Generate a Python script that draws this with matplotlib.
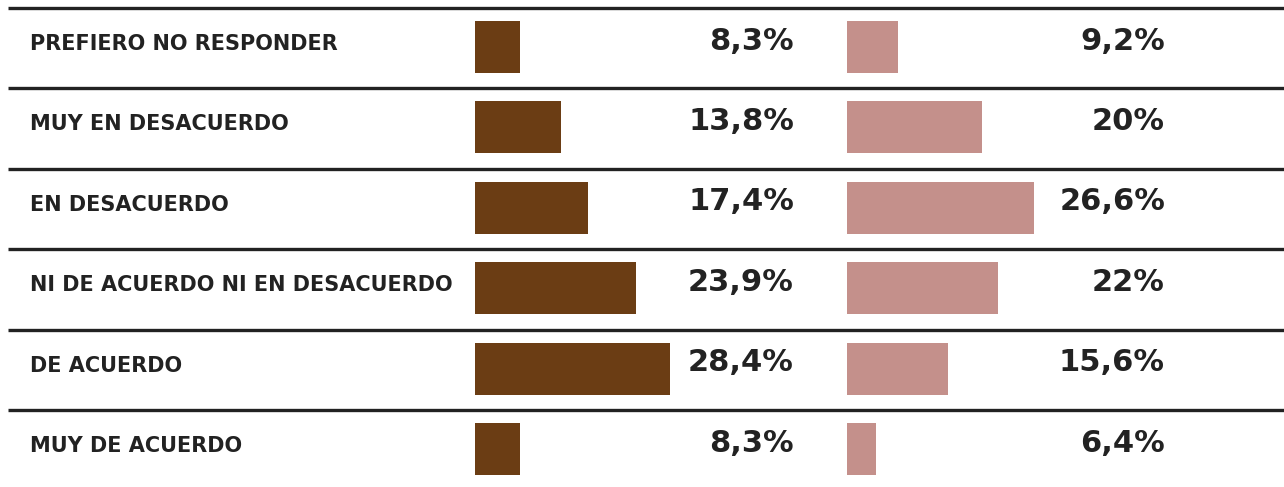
import numpy as np
import matplotlib
matplotlib.use("Agg")
import matplotlib.pyplot as plt

categories = [
    "PREFIERO NO RESPONDER",
    "MUY EN DESACUERDO",
    "EN DESACUERDO",
    "NI DE ACUERDO NI EN DESACUERDO",
    "DE ACUERDO",
    "MUY DE ACUERDO",
]
serie_a = [8.3, 13.8, 17.4, 23.9, 28.4, 8.3]
serie_b = [9.2, 20.0, 26.6, 22.0, 15.6, 6.4]
labels_a = ["8,3%", "13,8%", "17,4%", "23,9%", "28,4%", "8,3%"]
labels_b = ["9,2%", "20%", "26,6%", "22%", "15,6%", "6,4%"]

BROWN = "#6b3d14"
PINK = "#c4908b"
INK = "#222222"

W, H = 1284, 487
ROW0, ROW_H = 8, 80.4

fig = plt.figure(figsize=(W / 100, H / 100), dpi=100)
ax = fig.add_axes([0, 0, 1, 1])
ax.set_xlim(0, W)
ax.set_ylim(H, 0)
ax.axis("off")

tops = ROW0 + ROW_H * np.arange(len(categories))
centers = tops + 39

for t in tops:
    ax.plot([8, W], [t, t], color=INK, lw=2.4, solid_capstyle="butt")


def bar_axes(x0, span_px, x_start, px_per_unit, values, color):
    # eje propio para cada serie: la escala no empieza en 0
    b = fig.add_axes([x0 / W, 0, span_px / W, 1])
    b.set_xlim(x_start, x_start + span_px / px_per_unit)
    b.set_ylim(H, 0)
    b.axis("off")
    b.barh(centers, values, height=52, color=color)
    return b


bar_axes(475, 240, 2.3, 7.46, serie_a, BROWN)
bar_axes(847, 240, 2.7, 7.82, serie_b, PINK)

for c, cat, la, lb in zip(centers, categories, labels_a, labels_b):
    ax.text(30, c - 3, cat, ha="left", va="center", fontsize=15,
            family="DejaVu Sans", weight="bold", color=INK)
    ax.text(794, c - 6, la, ha="right", va="center", fontsize=22,
            family="DejaVu Sans", weight="bold", color=INK)
    ax.text(1165, c - 6, lb, ha="right", va="center", fontsize=22,
            family="DejaVu Sans", weight="bold", color=INK)

fig.savefig("out.png", dpi=100)
